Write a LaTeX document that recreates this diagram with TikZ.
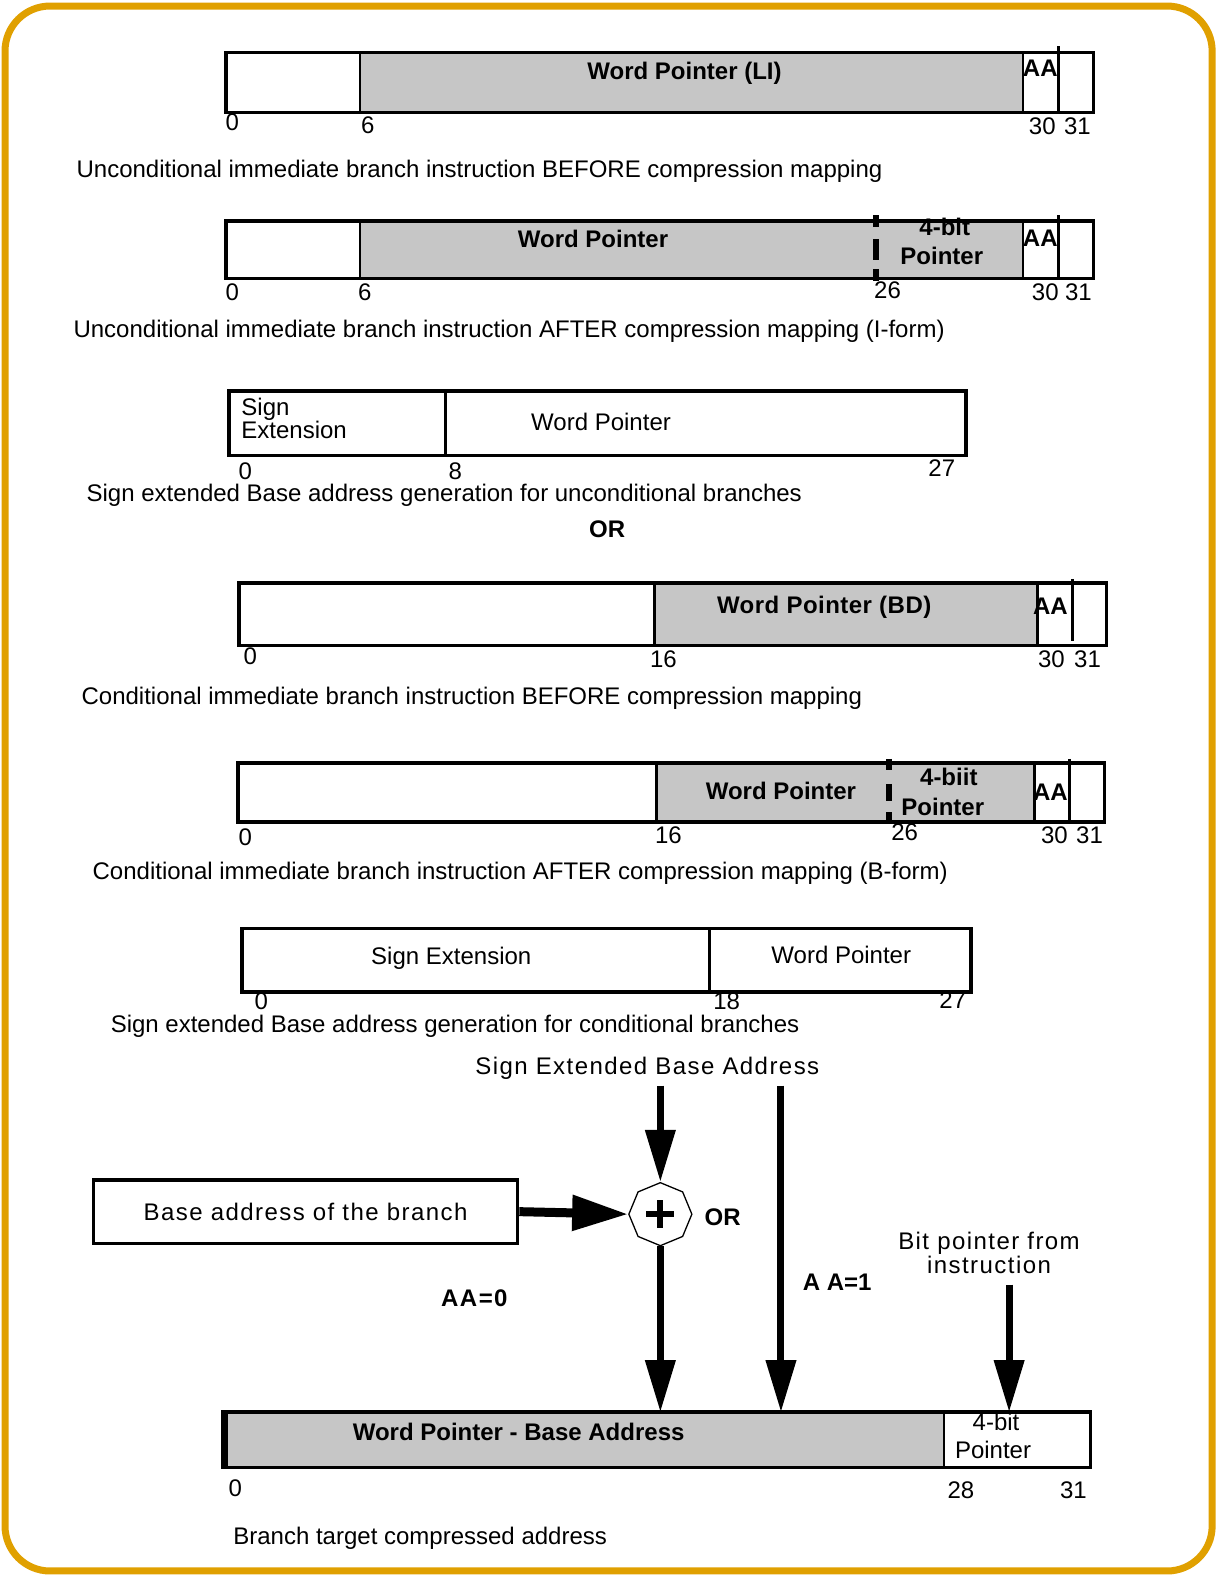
\documentclass[tikz,border=0pt]{standalone}
\usepackage{fontspec}
\setmainfont{Liberation Sans}
\newfontfamily\spaced[LetterSpace=6]{Liberation Sans}
\newfontfamily\spacedlight[LetterSpace=2]{Liberation Sans}
\usetikzlibrary{arrows.meta,shapes.geometric}
\definecolor{framecol}{HTML}{E0A000}
\definecolor{shadecol}{HTML}{C6C6C6}
\tikzset{
  outer/.style={line width=3.5pt},
  div/.style={line width=2.5pt},
  dashdiv/.style={line width=6pt},
  txt/.style={inner sep=0pt},
  captxt/.style={inner sep=0pt, anchor=west},
  bld/.style={inner sep=0pt, font=\fontsize{24}{27}\selectfont\bfseries},
  bigarrow/.style={line width=7pt, -{Triangle[length=52pt,width=29pt]}},
}
\begin{document}
\begin{tikzpicture}[x=1.005pt,y=-1.005pt,font=\fontsize{24}{27}\selectfont]
\useasboundingbox (0,0) rectangle (1211,1568);
\draw[framecol, line width=7pt, rounded corners=45pt] (5,6) rectangle (1206,1563);

% ---------- Row 1 ----------
\fill[shadecol] (358,52) rectangle (1018,112);
\draw[outer] (225,52) rectangle (1088,112);
\draw[div] (358,52) -- (358,112);
\draw[div] (1018,52) -- (1018,112);
\draw[div] (1053,46) -- (1053,112);
\node[bld] (r1wp) at (681,73) {Word Pointer (LI)};
\node[bld] (r1aa) at (1035,68) {AA};
\node[txt] (r1n0) at (231,122) {0};
\node[txt] (r1n6) at (366,125) {6};
\node[txt] (r1n30) at (1037,126) {30};
\node[txt] (r1n31) at (1072,126) {31};
\node[captxt] (r1cap) at (76,170) {Unconditional immediate branch instruction BEFORE compression mapping};

% ---------- Row 2 ----------
\fill[shadecol] (358,220) rectangle (1018,277);
\draw[outer] (225,220) rectangle (1088,277);
\draw[div] (358,220) -- (358,277);
\draw[div] (1018,220) -- (1018,277);
\draw[div] (1053,214) -- (1053,277);
\draw[dashdiv] (872,214) -- (872,226) (872,238) -- (872,259) (872,268) -- (872,280);
\node[bld] (r2wp) at (590,238) {Word Pointer};
\node[bld] (r2b1) at (940,226) {4-bit};
\node[bld] (r2b2) at (937,255) {Pointer};
\node[bld] (r2aa) at (1035,237) {AA};
\node[txt] (r2n0) at (231,291) {0};
\node[txt] (r2n6) at (363,291) {6};
\node[txt] (r2n26) at (883,289) {26};
\node[txt] (r2n30) at (1040,291) {30};
\node[txt] (r2n31) at (1073,291) {31};
\node[captxt] (r2cap) at (73,330) {Unconditional immediate branch instruction AFTER compression mapping (I-form)};

% ---------- Row 3 ----------
\draw[outer] (228,389) rectangle (961,453);
\draw[div] (443,389) -- (443,453);
\node[txt, anchor=west] (r3s1) at (240,407) {Sign};
\node[txt, anchor=west] (r3s2) at (240,428) {Extension};
\node[txt] (r3wp) at (598,420) {Word Pointer};
\node[txt] (r3n0) at (244,469) {0};
\node[txt] (r3n8) at (453,469) {8};
\node[txt] (r3n27) at (937,466) {27};
\node[captxt] (r3cap) at (86,493) {Sign extended Base address generation for unconditional branches};
\node[bld] (or1) at (604,527) {OR};

% ---------- Row 4 ----------
\fill[shadecol] (651,580) rectangle (1032,642);
\draw[outer] (238,580) rectangle (1101,642);
\draw[div] (651,580) -- (651,642);
\draw[div] (1032,580) -- (1032,642);
\draw[div] (1067,576) -- (1067,638);
\node[bld, font=\fontsize{24}{27}\spacedlight\bfseries] (r4wp) at (820,604) {Word Pointer (BD)};
\node[bld] (r4aa) at (1045,603) {AA};
\node[txt] (r4n0) at (249,653) {0};
\node[txt] (r4n16) at (660,656) {16};
\node[txt] (r4n30) at (1046,656) {30};
\node[txt] (r4n31) at (1082,656) {31};
\node[captxt] (r4cap) at (81,695) {Conditional immediate branch instruction BEFORE compression mapping};

% ---------- Row 5 ----------
\fill[shadecol] (653,759) rectangle (1029,818);
\draw[outer] (237,759) rectangle (1099,818);
\draw[div] (653,759) -- (653,818);
\draw[div] (1029,759) -- (1029,818);
\draw[div] (1064,755) -- (1064,818);
\draw[dashdiv] (884,755) -- (884,766) (884,780) -- (884,797) (884,808) -- (884,820);
\node[bld] (r5wp) at (777,787) {Word Pointer};
\node[bld] (r5b1) at (944,773) {4-biit};
\node[bld] (r5b2) at (938,803) {Pointer};
\node[bld] (r5aa) at (1045,788) {AA};
\node[txt] (r5n0) at (244,833) {0};
\node[txt] (r5n16) at (665,831) {16};
\node[txt] (r5n26) at (900,828) {26};
\node[txt] (r5n30) at (1049,831) {30};
\node[txt] (r5n31) at (1084,831) {31};
\node[captxt] (r5cap) at (92,869) {Conditional immediate branch instruction AFTER compression mapping (B-form)};

% ---------- Row 6 ----------
\draw[outer] (241,924) rectangle (966,987);
\draw[div] (706,924) -- (706,987);
\node[txt] (r6se) at (449,953) {Sign Extension};
\node[txt] (r6wp) at (837,950) {Word Pointer};
\node[txt] (r6n0) at (260,996) {0};
\node[txt] (r6n18) at (723,996) {18};
\node[txt] (r6n27) at (948,995) {27};
\node[captxt] (r6cap) at (110,1021) {Sign extended Base address generation for conditional branches};

% ---------- Bottom diagram ----------
\node[txt, font=\fontsize{24}{27}\spaced] (seba) at (644,1063) {Sign Extended Base Address};
\node[draw, outer, minimum width=424pt, minimum height=63.3pt, inner sep=0pt,
      font=\fontsize{24}{27}\spaced] (base) at (304,1205.5) {Base address of the branch};
\node[draw, line width=1.3pt, regular polygon, regular polygon sides=8,
      shape border rotate=22.5, minimum size=63pt, inner sep=0pt, fill=white] (plus) at (657,1208) {};
\draw[line width=6pt] ([yshift=14pt]plus.center) -- ([yshift=-14pt]plus.center)
                      ([xshift=-14pt]plus.center) -- ([xshift=14pt]plus.center);
\node[bld] (or2) at (719,1211) {OR};
\node[bld, font=\fontsize{24}{27}\spaced\bfseries] (aa0) at (472,1292) {AA=0};
\node[bld] (aa1) at (833,1276) {A A=1};
\node[txt, align=center, font=\fontsize{24}{24}\spaced] (bitp) at (984,1247) {Bit pointer from\\instruction};

% target box
\node[fill=shadecol, minimum width=720.6pt, minimum height=55.3pt, inner sep=0pt, anchor=north west] (wpba) at (222,1405) {};
\node[minimum width=146.7pt, minimum height=55.3pt, inner sep=0pt, anchor=north west] (bptr) at (939,1405) {};
\draw[outer] (222,1405) rectangle (1085,1460);
\draw[line width=6pt] (224,1405) -- (224,1460);
\draw[div] (939,1405) -- (939,1460);
\node[bld] (wpbat) at (516,1425) {Word Pointer - Base Address};
\node[txt] (bp1) at (991,1415) {4-bit};
\node[txt] (bp2) at (988,1443) {Pointer};
\node[txt] (bn0) at (234,1481) {0};
\node[txt] (bn28) at (956,1483) {28};
\node[txt] (bn31) at (1068,1483) {31};
\node[captxt] (bcap) at (232,1530) {Branch target compressed address};

% connectors
\coordinate (sebaTop) at (657,1080);
\coordinate (aa1Top) at (777,1080);
\coordinate (bpTop) at (1004,1278);
\draw[bigarrow] (sebaTop) -- (plus.north);
\draw[line width=9pt, -{Triangle[length=56pt,width=34pt]}] (base.east) -- (plus.west);
\draw[bigarrow] (plus.south) -- (plus.south |- wpba.north);
\draw[bigarrow] (aa1Top) -- (aa1Top |- wpba.north);
\draw[bigarrow] (bpTop) -- (bpTop |- bptr.north);
\end{tikzpicture}
\end{document}
